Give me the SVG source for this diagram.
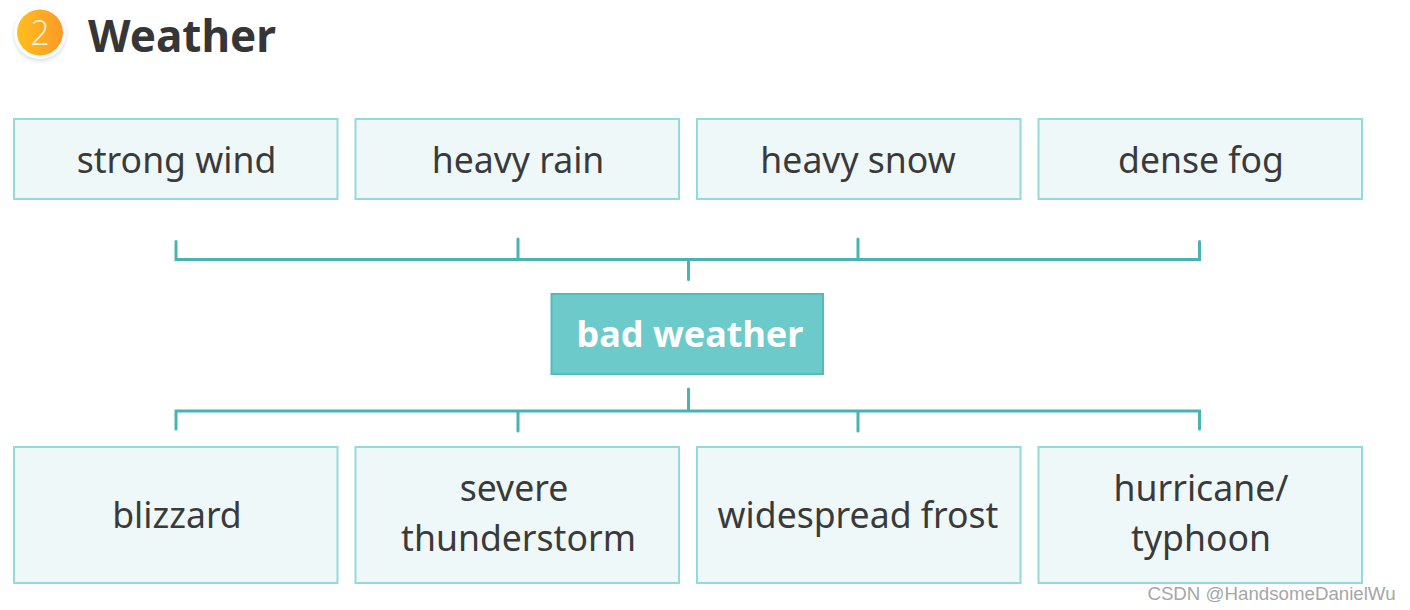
<svg xmlns="http://www.w3.org/2000/svg" width="1410" height="610" viewBox="0 0 1410 610">
<defs>
<linearGradient id="o" x1="0" y1="0" x2="1" y2="0"><stop offset="0" stop-color="#ffbe1e"/><stop offset="1" stop-color="#fd9a28"/></linearGradient>
<filter id="s" x="-30%" y="-30%" width="160%" height="160%"><feGaussianBlur stdDeviation="2"/></filter>
</defs>
<style>
text{font-family:"Noto Sans","Open Sans",sans-serif;fill:#3a3a3a;text-anchor:middle;font-size:35.6px}
.b{fill:#eff8f9;stroke:#95dada;stroke-width:2}
.c{fill:none;stroke:#4ab3b1;stroke-width:3;stroke-linecap:round}
</style>
<rect width="1410" height="610" fill="#fff"/>
<g id="badge"><circle cx="40" cy="35" r="26" fill="#d5dfe6" filter="url(#s)"/><circle cx="40" cy="33" r="26" fill="#fff"/><circle cx="40" cy="32.500" r="23" fill="url(#o)"/><text x="40" y="45" style="fill:#fff2d8;font-size:34px;font-family:'Open Sans','Noto Sans',sans-serif;font-weight:300">2</text></g>
<text id="title" x="182" y="52" style="font-size:44px;font-weight:700;fill:#363636">Weather</text>
<g id="connectors">
<path class="c" d="M176 241.500V259.500H1199.500V241.500M518 239V259M858 239V259M688.500 260V279.500"/>
<path class="c" d="M176 429V411H1199.500V429M518 411V431M858 411V431M688.500 389V411"/>
</g>
<g id="n1"><rect class="b" x="14" y="119" width="323.500" height="80"/><text x="176.500" y="173">strong wind</text></g>
<g id="n2"><rect class="b" x="355.500" y="119" width="323.500" height="80"/><text x="518" y="173">heavy rain</text></g>
<g id="n3"><rect class="b" x="697" y="119" width="323.500" height="80"/><text x="858" y="173">heavy snow</text></g>
<g id="n4"><rect class="b" x="1038.500" y="119" width="323.500" height="80"/><text x="1201" y="173">dense fog</text></g>
<g id="center"><rect x="551.500" y="294" width="271.500" height="80" fill="#6ccaca" stroke="#55bbb9" stroke-width="2"/><text x="690" y="347" style="fill:#fff;font-weight:700;font-size:36px">bad weather</text></g>
<g id="n5"><rect class="b" x="14" y="447" width="323.500" height="136"/><text x="177" y="528">blizzard</text></g>
<g id="n6"><rect class="b" x="355.500" y="447" width="323.500" height="136"/><text x="514" y="501">severe</text><text x="518.500" y="551">thunderstorm</text></g>
<g id="n7"><rect class="b" x="697" y="447" width="323.500" height="136"/><text x="858" y="528">widespread frost</text></g>
<g id="n8"><rect class="b" x="1038.500" y="447" width="323.500" height="136"/><text x="1201" y="501">hurricane/</text><text x="1201" y="551">typhoon</text></g>
<text id="watermark" x="1271.500" y="600" style="font-family:'Liberation Sans',sans-serif;font-size:18.700px;fill:#a6a6a6">CSDN @HandsomeDanielWu</text>
</svg>
